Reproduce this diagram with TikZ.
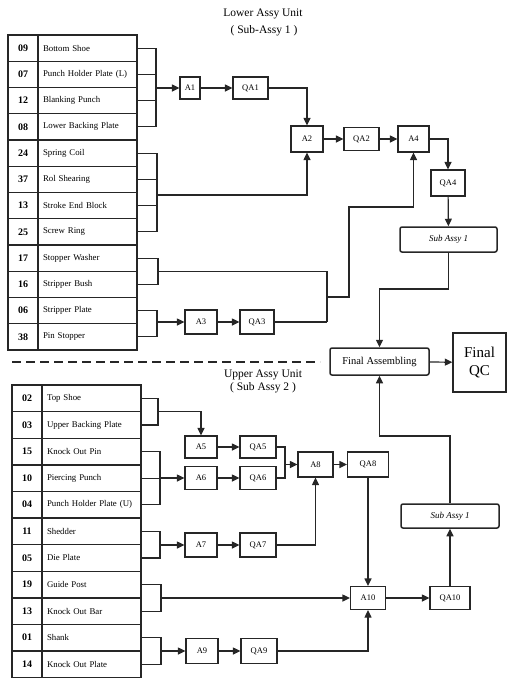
\documentclass[tikz,border=0pt]{standalone}
\usepackage{fontspec}
\setmainfont{Liberation Serif}
\usetikzlibrary{arrows.meta,calc}
\begin{document}
\begin{tikzpicture}[x=1pt,y=-1pt,
  line/.style={draw=black!85,line width=1.2pt},
  arr/.style={line,-{Triangle[length=7.5pt,width=7pt]}},
  cell/.style={draw=black!85,line width=1.4pt,inner sep=0pt,minimum height=26pt},
  numcell/.style={cell,minimum width=30pt,font=\fontsize{10}{11}\selectfont\bfseries},
  namecell/.style={cell,minimum width=99pt,text width=89pt,align=left,font=\fontsize{8.8}{9}\selectfont},
  box/.style={draw=black!85,line width=1.2pt,inner sep=0pt,font=\fontsize{8.5}{9}\selectfont},
  subbox/.style={box,rounded corners=2pt,line width=1.5pt,font=\fontsize{9}{10}\selectfont\itshape},
  title/.style={font=\fontsize{11.5}{13}\selectfont,align=center}
]
\useasboundingbox (0,0) rectangle (506,680);

% titles
\node[title] (t1) at (263,14) {Lower Assy Unit};
\node[title] (t2) at (264,31) {( Sub-Assy 1 )};
\node[title] (t3) at (263,375) {Upper Assy Unit};
\node[title] (t4) at (263,388) {( Sub Assy 2 )};

% lower table
\foreach \n/\t [count=\i from 0] in {09/Bottom Shoe,07/Punch Holder Plate (L),12/Blanking Punch,08/Lower Backing Plate,24/Spring Coil,37/Rol Shearing,13/Stroke End Block,25/Screw Ring,17/Stopper Washer,16/Stripper Bush,06/Stripper Plate,38/Pin Stopper}{
  \node[numcell,minimum height=26.25pt] (LN\i) at (23,{48.125+26.25*\i}) {\n};
  \node[namecell,minimum height=26.25pt] (LT\i) at (87.5,{48.125+26.25*\i}) {\t};
}
% upper table
\foreach \n/\t [count=\i from 0] in {02/Top Shoe,03/Upper Backing Plate,15/Knock Out Pin,10/Piercing Punch,04/Punch Holder Plate (U),11/Shedder,05/Die Plate,19/Guide Post,13/Knock Out Bar,01/Shank,14/Knock Out Plate}{
  \node[numcell,minimum height=26.6pt] (UN\i) at (27,{398.3+26.6*\i}) {\n};
  \node[namecell,minimum height=26.6pt] (UT\i) at (91.5,{398.3+26.6*\i}) {\t};
}

% lower boxes
\node[box,minimum width=20pt,minimum height=22pt] (A1) at (190,88) {A1};
\node[box,minimum width=35pt,minimum height=22pt] (QA1) at (250.5,88) {QA1};
\node[box,minimum width=32pt,minimum height=26pt] (A2) at (307,139) {A2};
\node[box,minimum width=35pt,minimum height=23pt] (QA2) at (361.5,139) {QA2};
\node[box,minimum width=31pt,minimum height=26pt] (A4) at (413.5,139) {A4};
\node[box,minimum width=34pt,minimum height=26pt] (QA4) at (448,183) {QA4};
\node[subbox,minimum width=97pt,minimum height=25pt] (SA1) at (448.5,239.5) {Sub Assy 1};
\node[box,minimum width=32pt,minimum height=24pt] (A3) at (201,322) {A3};
\node[box,minimum width=34pt,minimum height=24pt] (QA3) at (257,322) {QA3};

% final
\node[subbox,font=\fontsize{10.5}{11}\selectfont,minimum width=99pt,minimum height=27pt] (FA) at (379.5,361.5) {Final Assembling};
\node[box,line width=1.4pt,minimum width=53pt,minimum height=59pt,align=center,font=\fontsize{15}{18}\selectfont] (FQC) at (479.5,362.5) {Final\\QC};

% upper boxes
\node[box,minimum width=32pt,minimum height=22pt] (A5) at (201,447) {A5};
\node[box,minimum width=36pt,minimum height=22pt] (QA5) at (258,447) {QA5};
\node[box,minimum width=32pt,minimum height=23pt] (A6) at (201,478) {A6};
\node[box,minimum width=36pt,minimum height=23pt] (QA6) at (258,478) {QA6};
\node[box,minimum width=35pt,minimum height=25pt] (A8) at (315.5,464.5) {A8};
\node[box,minimum width=41pt,minimum height=25pt] (QA8) at (368,464.5) {QA8};
\node[box,minimum width=32pt,minimum height=24pt] (A7) at (201,545) {A7};
\node[box,minimum width=36pt,minimum height=24pt] (QA7) at (258,545) {QA7};
\node[box,minimum width=35pt,minimum height=23pt] (A10) at (368,598) {A10};
\node[box,minimum width=40pt,minimum height=23pt] (QA10) at (450,598) {QA10};
\node[subbox,minimum width=98pt,minimum height=24pt] (SA2) at (450,516) {Sub Assy 1};
\node[box,minimum width=32pt,minimum height=25pt] (A9) at (202,651) {A9};
\node[box,minimum width=36pt,minimum height=25pt] (QA9) at (259,651) {QA9};

% dashed divider
\draw[draw=black!85,line width=1.5pt,dash pattern=on 9pt off 5pt] (12,362) -- (320,362);

% lower bars
\coordinate (b1) at (156,88);
\coordinate (b2) at (157,195);
\coordinate (b3) at (158,271.5);
\coordinate (b4) at (157,322);
\foreach \i in {0,1,2,3} \draw[line] (LT\i.east) -| (b1);
\foreach \i in {4,5,6,7} \draw[line] (LT\i.east) -| (b2);
\foreach \i in {8,9} \draw[line] (LT\i.east) -| (b3);
\foreach \i in {10,11} \draw[line] (LT\i.east) -| (b4);

\draw[arr] (b1) -- (A1);
\draw[arr] (A1) -- (QA1);
\draw[arr] (QA1.east) -| (A2.north);
\draw[arr] (b2) -| (A2.south);
\draw[arr] (A2) -- (QA2);
\draw[arr] (QA2) -- (A4);
\draw[arr] (A4.east) -| (QA4.north);
\draw[arr] (QA4) -- (SA1);
\draw[arr] (b4) -- (A3);
\draw[arr] (A3) -- (QA3);
\coordinate (m3) at (327,322);
\coordinate (m3b) at (327,297);
\coordinate (m3c) at (349,207);
\draw[line] (b3) -| (m3);
\draw[line] (QA3.east) -- (m3);
\draw[arr] (m3b) -| (m3c) -| (A4.south);
\coordinate (s1) at (448.5,289);
\draw[arr] (SA1.south) -- (s1) -| (FA.north);
\draw[arr] (FA) -- (FQC);

% upper bars
\coordinate (b5) at (158,411.6);
\coordinate (b6) at (160,478);
\coordinate (b7) at (160,545);
\coordinate (b8) at (161,598);
\coordinate (b9) at (161,651);
\foreach \i in {0,1} \draw[line] (UT\i.east) -| (b5);
\foreach \i in {2,3,4} \draw[line] (UT\i.east) -| (b6);
\foreach \i in {5,6} \draw[line] (UT\i.east) -| (b7);
\foreach \i in {7,8} \draw[line] (UT\i.east) -| (b8);
\foreach \i in {9,10} \draw[line] (UT\i.east) -| (b9);

\draw[arr] (b5) -| (A5.north);
\draw[arr] (b6) -- (A6);
\draw[arr] (A5) -- (QA5);
\draw[arr] (A6) -- (QA6);
\coordinate (m8) at (285,464.5);
\draw[line] (QA5.east) -| (m8);
\draw[line] (QA6.east) -| (m8);
\draw[arr] (m8) -- (A8);
\draw[arr] (A8) -- (QA8);
\draw[arr] (b7) -- (A7);
\draw[arr] (A7) -- (QA7);
\draw[arr] (QA7.east) -| (A8.south);
\draw[arr] (QA8) -- (A10);
\draw[arr] (b8) -- (A10);
\draw[arr] (b9) -- (A9);
\draw[arr] (A9) -- (QA9);
\draw[arr] (QA9.east) -| (A10.south);
\draw[arr] (A10) -- (QA10);
\draw[arr] (QA10) -- (SA2);
\coordinate (s2) at (450,436);
\draw[arr] (SA2.north) -- (s2) -| (FA.south);
\end{tikzpicture}
\end{document}
